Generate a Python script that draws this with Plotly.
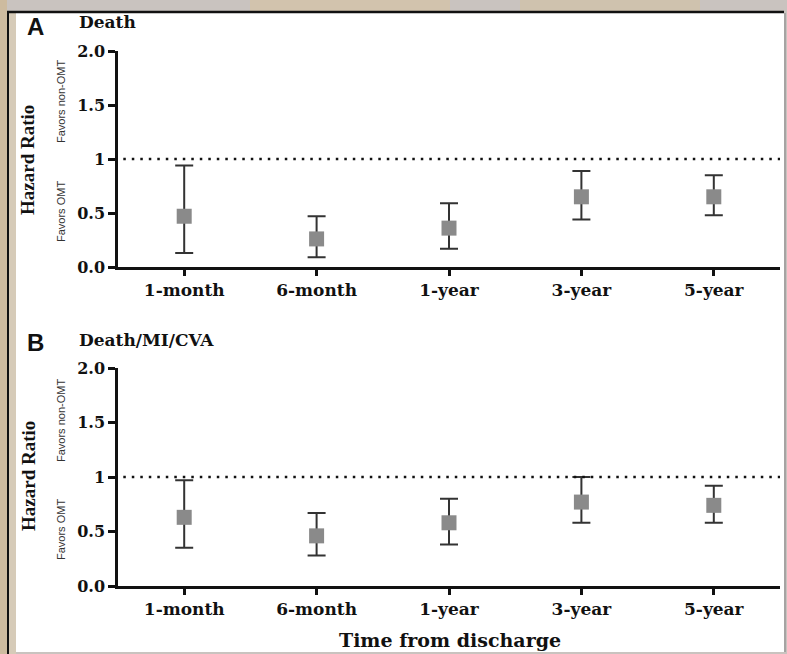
import plotly.graph_objects as go

W, H = 787, 654

categories = ["1-month", "6-month", "1-year", "3-year", "5-year"]

death_hr = [0.47, 0.26, 0.36, 0.65, 0.65]
death_lo = [0.13, 0.09, 0.17, 0.44, 0.48]
death_hi = [0.94, 0.47, 0.59, 0.89, 0.85]

combo_hr = [0.63, 0.46, 0.58, 0.77, 0.74]
combo_lo = [0.35, 0.28, 0.38, 0.58, 0.58]
combo_hi = [0.97, 0.67, 0.80, 1.00, 0.92]

ytick_vals = [0.0, 0.5, 1.0, 1.5, 2.0]
ytick_text = ["0.0", "0.5", "1", "1.5", "2.0"]

panel_titles = ["Death", "Death/MI/CVA"]
panel_letters = ["A", "B"]


def px(x):
    return x / W


def py(y):
    return 1 - y / H


fig = go.Figure()

serif_bold = "DejaVu Serif"

for i, (hr, lo, hi) in enumerate([(death_hr, death_lo, death_hi),
                                   (combo_hr, combo_lo, combo_hi)]):
    xa = "x" if i == 0 else "x2"
    ya = "y" if i == 0 else "y2"
    fig.add_trace(go.Scatter(
        x=categories, y=hr, xaxis=xa, yaxis=ya, mode="markers",
        marker=dict(symbol="square", size=15, color="#8a8a8a"),
        error_y=dict(type="data", symmetric=False,
                     array=[h - m for h, m in zip(hi, hr)],
                     arrayminus=[m - l for m, l in zip(hr, lo)],
                     color="#333333", thickness=2, width=9),
        showlegend=False, cliponaxis=False,
    ))

xaxis_common = dict(
    type="category", range=[-0.5, 4.5], showline=True, linecolor="#111111",
    linewidth=2.5, ticks="outside", ticklen=6, tickwidth=2.5, tickcolor="#111111",
    showgrid=False, zeroline=False, automargin=False,
    tickfont=dict(family=serif_bold, size=17, color="#111111", weight="bold"),
    fixedrange=True,
)
yaxis_common = dict(
    range=[0, 2], showline=True, linecolor="#111111", linewidth=2.5,
    ticks="outside", ticklen=7, tickwidth=2.5, tickcolor="#111111",
    showgrid=False, zeroline=False, tickvals=ytick_vals, ticktext=ytick_text,
    automargin=False,
    tickfont=dict(family=serif_bold, size=16, color="#111111", weight="bold"),
    fixedrange=True,
)

fig.update_layout(
    width=W, height=H, margin=dict(l=0, r=0, t=0, b=0, pad=0, autoexpand=False),
    paper_bgcolor="#c9c3bf", plot_bgcolor="rgba(0,0,0,0)",
    xaxis=dict(domain=[px(118), px(780)], anchor="y", **xaxis_common),
    yaxis=dict(domain=[py(267), py(51)], anchor="x", **yaxis_common),
    xaxis2=dict(domain=[px(118), px(780)], anchor="y2", **xaxis_common),
    yaxis2=dict(domain=[py(586), py(368)], anchor="x2", **yaxis_common),
)

shapes = [
    # background strips
    dict(type="rect", xref="paper", yref="paper", x0=0, x1=px(7), y0=0, y1=1,
         fillcolor="#cdbb9f", line=dict(width=0), layer="below"),
    dict(type="rect", xref="paper", yref="paper", x0=px(9), x1=px(16), y0=0, y1=py(12),
         fillcolor="#d6cbb8", line=dict(width=0), layer="below"),
    dict(type="rect", xref="paper", yref="paper", x0=px(250), x1=px(450), y0=py(11), y1=1,
         fillcolor="#d2c3ad", line=dict(width=0), layer="below"),
    dict(type="rect", xref="paper", yref="paper", x0=px(520), x1=px(700), y0=py(11), y1=1,
         fillcolor="#cfc2ae", line=dict(width=0), layer="below"),
    # white panel
    dict(type="rect", xref="paper", yref="paper", x0=px(16), x1=px(784), y0=py(652), y1=py(13),
         fillcolor="white", line=dict(width=0), layer="below"),
    # black frame lines
    dict(type="line", xref="paper", yref="paper", x0=px(7), x1=px(784), y0=py(12), y1=py(12),
         line=dict(color="#111111", width=2.5)),
    dict(type="line", xref="paper", yref="paper", x0=px(8), x1=px(8), y0=0, y1=py(12),
         line=dict(color="#111111", width=2)),
    dict(type="line", xref="paper", yref="paper", x0=px(785), x1=px(785), y0=py(652), y1=py(13),
         line=dict(color="#9a9a9a", width=1.5)),
]
for xr, yr in [("x", "y"), ("x2", "y2")]:
    shapes.append(dict(type="line", xref=xr + " domain", yref=yr, x0=0.008, x1=1.0,
                       y0=1, y1=1, line=dict(color="#111111", width=2.5, dash="2.5px,6px")))
fig.update_layout(shapes=shapes)


def note(text, x, y, font, angle=0, xanchor="center"):
    return dict(text=text, x=px(x), y=py(y), xref="paper", yref="paper",
                showarrow=False, xanchor=xanchor, yanchor="middle",
                textangle=angle, font=font)


ann = []
for i, (yl, yt) in enumerate([(26, 22), (342, 340)]):
    ann.append(note("<b>" + panel_letters[i] + "</b>", 35, yl,
                    dict(family="Liberation Sans", size=24, color="#111111")))
    ann.append(note("<b>" + panel_titles[i] + "</b>", 77, yt,
                    dict(family=serif_bold, size=17, color="#111111"), xanchor="left"))

for hr_y, non_y, omt_y in [(160, 102, 212), (476, 421, 530)]:
    ann.append(note("<b>Hazard Ratio</b>", 28, hr_y,
                    dict(family="Liberation Serif", size=19, color="#111111"), angle=-90))
    ann.append(note("Favors non-OMT", 61, non_y,
                    dict(family="Liberation Sans Narrow, Liberation Sans", size=11, color="#333333"),
                    angle=-90))
    ann.append(note("Favors OMT", 61, omt_y,
                    dict(family="Liberation Sans Narrow, Liberation Sans", size=11, color="#333333"),
                    angle=-90))

ann.append(note("<b>Time from discharge</b>", 450, 640,
                dict(family=serif_bold, size=19, color="#111111")))
fig.update_layout(annotations=ann)

fig.write_html("out.html")
